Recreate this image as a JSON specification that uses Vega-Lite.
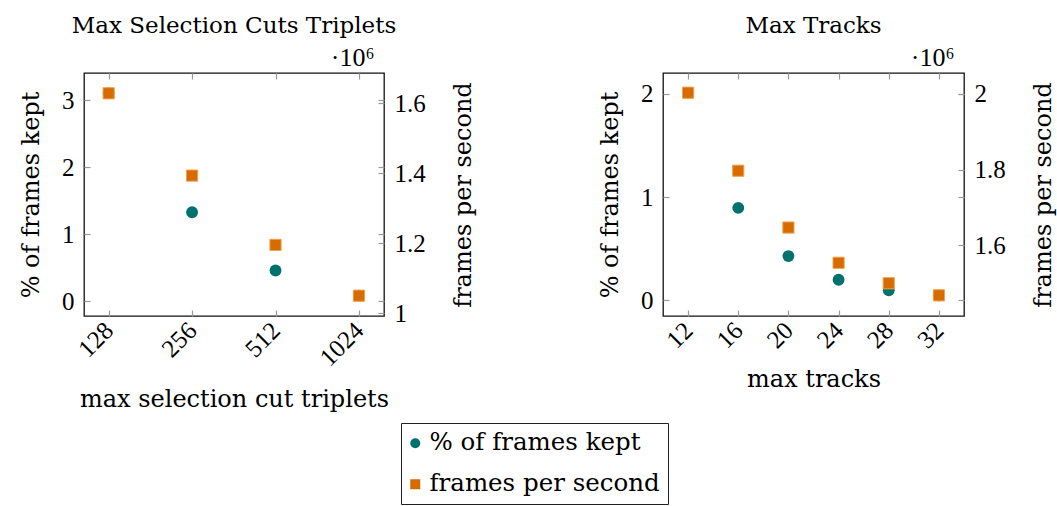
{
  "$schema": "https://vega.github.io/schema/vega-lite/v6.json",
  "padding": {"left": 18, "top": 14, "right": 5, "bottom": 0},
  "background": "white",
  "datasets": {
    "p1": [
      {"x": 128, "series": "% of frames kept", "value": 3.11},
      {"x": 256, "series": "% of frames kept", "value": 1.33},
      {"x": 512, "series": "% of frames kept", "value": 0.46},
      {"x": 1024, "series": "% of frames kept", "value": 0.085},
      {"x": 128, "series": "frames per second", "value": 1628000},
      {"x": 256, "series": "frames per second", "value": 1393000},
      {"x": 512, "series": "frames per second", "value": 1195000},
      {"x": 1024, "series": "frames per second", "value": 1050000}
    ],
    "p2": [
      {"x": 12, "series": "% of frames kept", "value": 2.01},
      {"x": 16, "series": "% of frames kept", "value": 0.896},
      {"x": 20, "series": "% of frames kept", "value": 0.429},
      {"x": 24, "series": "% of frames kept", "value": 0.199},
      {"x": 28, "series": "% of frames kept", "value": 0.097},
      {"x": 32, "series": "% of frames kept", "value": 0.048},
      {"x": 12, "series": "frames per second", "value": 2003000},
      {"x": 16, "series": "frames per second", "value": 1797000},
      {"x": 20, "series": "frames per second", "value": 1647000},
      {"x": 24, "series": "frames per second", "value": 1554000},
      {"x": 28, "series": "frames per second", "value": 1500000},
      {"x": 32, "series": "frames per second", "value": 1468000}
    ]
  },
  "config": {
    "font": "DejaVu Serif",
    "view": {"stroke": "#111", "strokeWidth": 1.3},
    "axis": {
      "domain": false, "grid": false, "tickSize": -6, "tickColor": "#9a9a9a", "tickWidth": 1.2,
      "labelFont": "Liberation Serif", "labelFontSize": 25, "labelColor": "#000", "labelPadding": 16,
      "titleFont": "DejaVu Serif", "titleFontSize": 24, "titleFontWeight": "normal", "titleColor": "#000"
    },
    "title": {"font": "DejaVu Serif", "fontSize": 23, "fontWeight": "normal", "color": "#000"},
    "legend": {
      "orient": "none", "legendX": 317, "legendY": 350, "direction": "vertical",
      "strokeColor": "#222", "padding": 8, "labelFont": "DejaVu Serif", "labelFontSize": 24.5, "labelLimit": 400,
      "labelColor": "#000", "symbolSize": 100, "symbolStrokeWidth": 0, "rowPadding": 16, "labelOffset": 2, "symbolOffset": -6
    }
  },
  "spacing": 121,
  "hconcat": [
    {
      "width": 300, "height": 243,
      "title": {"text": "Max Selection Cuts Triplets", "offset": 6},
      "data": {"name": "p1"},
      "layer": [
        {
          "transform": [{"filter": "datum.series === '% of frames kept'"}],
          "mark": {"type": "point", "filled": true, "opacity": 1},
          "encoding": {
            "x": {"field": "x", "type": "quantitative", "scale": {"type": "log", "base": 2, "domain": [104.3, 1261], "nice": false},
              "axis": {"orient": "bottom", "values": [128, 256, 512, 1024], "format": "d", "labelAngle": -45, "labelAlign": "right", "labelBaseline": "middle", "title": "max selection cut triplets", "titlePadding": 17}},
            "y": {"field": "value", "type": "quantitative", "scale": {"domain": [-0.22, 3.41], "nice": false, "zero": false},
              "axis": {"orient": "left", "values": [0, 1, 2, 3], "title": "% of frames kept", "titlePadding": 18}},
            "color": {"field": "series", "type": "nominal", "scale": {"domain": ["% of frames kept", "frames per second"], "range": ["#00716c", "#d66b00"]}, "legend": {"title": null}},
            "shape": {"field": "series", "type": "nominal", "scale": {"domain": ["% of frames kept", "frames per second"], "range": ["circle", "square"]}, "legend": {"title": null}},
            "size": {"value": 140}
          }
        },
        {
          "transform": [{"filter": "datum.series === 'frames per second'"}],
          "mark": {"type": "point", "filled": true, "opacity": 1, "stroke": "#f5a04a", "strokeWidth": 1},
          "encoding": {
            "x": {"field": "x", "type": "quantitative", "scale": {"type": "log", "base": 2, "domain": [104.3, 1261], "nice": false}, "axis": null},
            "y": {"field": "value", "type": "quantitative", "scale": {"domain": [992000, 1686000], "nice": false, "zero": false},
              "axis": {"orient": "right", "values": [1000000, 1200000, 1400000, 1600000], "labelExpr": "format(datum.value / 1000000, '~g')", "title": "frames per second", "titleAngle": -90, "titleBaseline": "top", "titlePadding": 26}},
            "color": {"field": "series", "type": "nominal", "scale": {"domain": ["% of frames kept", "frames per second"], "range": ["#00716c", "#d66b00"]}, "legend": {"title": null}},
            "shape": {"field": "series", "type": "nominal", "scale": {"domain": ["% of frames kept", "frames per second"], "range": ["circle", "square"]}, "legend": {"title": null}},
            "size": {"value": 125}
          }
        },
        {
          "transform": [{"filter": "datum.series === '% of frames kept'"}],
          "mark": {"type": "point", "opacity": 0},
          "encoding": {
            "x": {"field": "x", "type": "quantitative", "scale": {"type": "log", "base": 2, "domain": [104.3, 1261], "nice": false},
              "axis": {"orient": "top", "values": [128, 256, 512, 1024], "labels": false, "title": "·10⁶", "titleFont": "Liberation Serif", "titleFontSize": 26, "titleAlign": "right", "titleX": 290, "titlePadding": 2}},
            "y": {"field": "value", "type": "quantitative", "scale": {"domain": [-0.22, 3.41], "nice": false, "zero": false},
              "axis": {"orient": "right", "values": [0, 1, 2, 3], "labels": false, "title": null}}
          }
        }
      ],
      "resolve": {"scale": {"x": "independent", "y": "independent"}}
    },
    {
      "width": 301, "height": 243,
      "title": {"text": "Max Tracks", "offset": 6},
      "data": {"name": "p2"},
      "layer": [
        {
          "transform": [{"filter": "datum.series === '% of frames kept'"}],
          "mark": {"type": "point", "filled": true, "opacity": 1},
          "encoding": {
            "x": {"field": "x", "type": "quantitative", "scale": {"domain": [10, 34], "nice": false, "zero": false},
              "axis": {"orient": "bottom", "values": [12, 16, 20, 24, 28, 32], "labelAngle": -45, "labelAlign": "right", "labelBaseline": "middle", "title": "max tracks", "titlePadding": 15}},
            "y": {"field": "value", "type": "quantitative", "scale": {"domain": [-0.152, 2.203], "nice": false, "zero": false},
              "axis": {"orient": "left", "values": [0, 1, 2], "title": "% of frames kept", "titlePadding": 18}},
            "color": {"field": "series", "type": "nominal", "scale": {"domain": ["% of frames kept", "frames per second"], "range": ["#00716c", "#d66b00"]}, "legend": {"title": null}},
            "shape": {"field": "series", "type": "nominal", "scale": {"domain": ["% of frames kept", "frames per second"], "range": ["circle", "square"]}, "legend": {"title": null}},
            "size": {"value": 140}
          }
        },
        {
          "transform": [{"filter": "datum.series === 'frames per second'"}],
          "mark": {"type": "point", "filled": true, "opacity": 1, "stroke": "#f5a04a", "strokeWidth": 1},
          "encoding": {
            "x": {"field": "x", "type": "quantitative", "scale": {"domain": [10, 34], "nice": false, "zero": false}, "axis": null},
            "y": {"field": "value", "type": "quantitative", "scale": {"domain": [1413500, 2055000], "nice": false, "zero": false},
              "axis": {"orient": "right", "values": [1600000, 1800000, 2000000], "labelExpr": "format(datum.value / 1000000, '~g')", "title": "frames per second", "titleAngle": -90, "titleBaseline": "top", "titlePadding": 26}},
            "color": {"field": "series", "type": "nominal", "scale": {"domain": ["% of frames kept", "frames per second"], "range": ["#00716c", "#d66b00"]}, "legend": {"title": null}},
            "shape": {"field": "series", "type": "nominal", "scale": {"domain": ["% of frames kept", "frames per second"], "range": ["circle", "square"]}, "legend": {"title": null}},
            "size": {"value": 125}
          }
        },
        {
          "transform": [{"filter": "datum.series === '% of frames kept'"}],
          "mark": {"type": "point", "opacity": 0},
          "encoding": {
            "x": {"field": "x", "type": "quantitative", "scale": {"domain": [10, 34], "nice": false, "zero": false},
              "axis": {"orient": "top", "values": [12, 16, 20, 24, 28, 32], "labels": false, "title": "·10⁶", "titleFont": "Liberation Serif", "titleFontSize": 26, "titleAlign": "right", "titleX": 291, "titlePadding": 2}},
            "y": {"field": "value", "type": "quantitative", "scale": {"domain": [-0.152, 2.203], "nice": false, "zero": false},
              "axis": {"orient": "right", "values": [0, 1, 2], "labels": false, "title": null}}
          }
        }
      ],
      "resolve": {"scale": {"x": "independent", "y": "independent"}}
    }
  ]
}
